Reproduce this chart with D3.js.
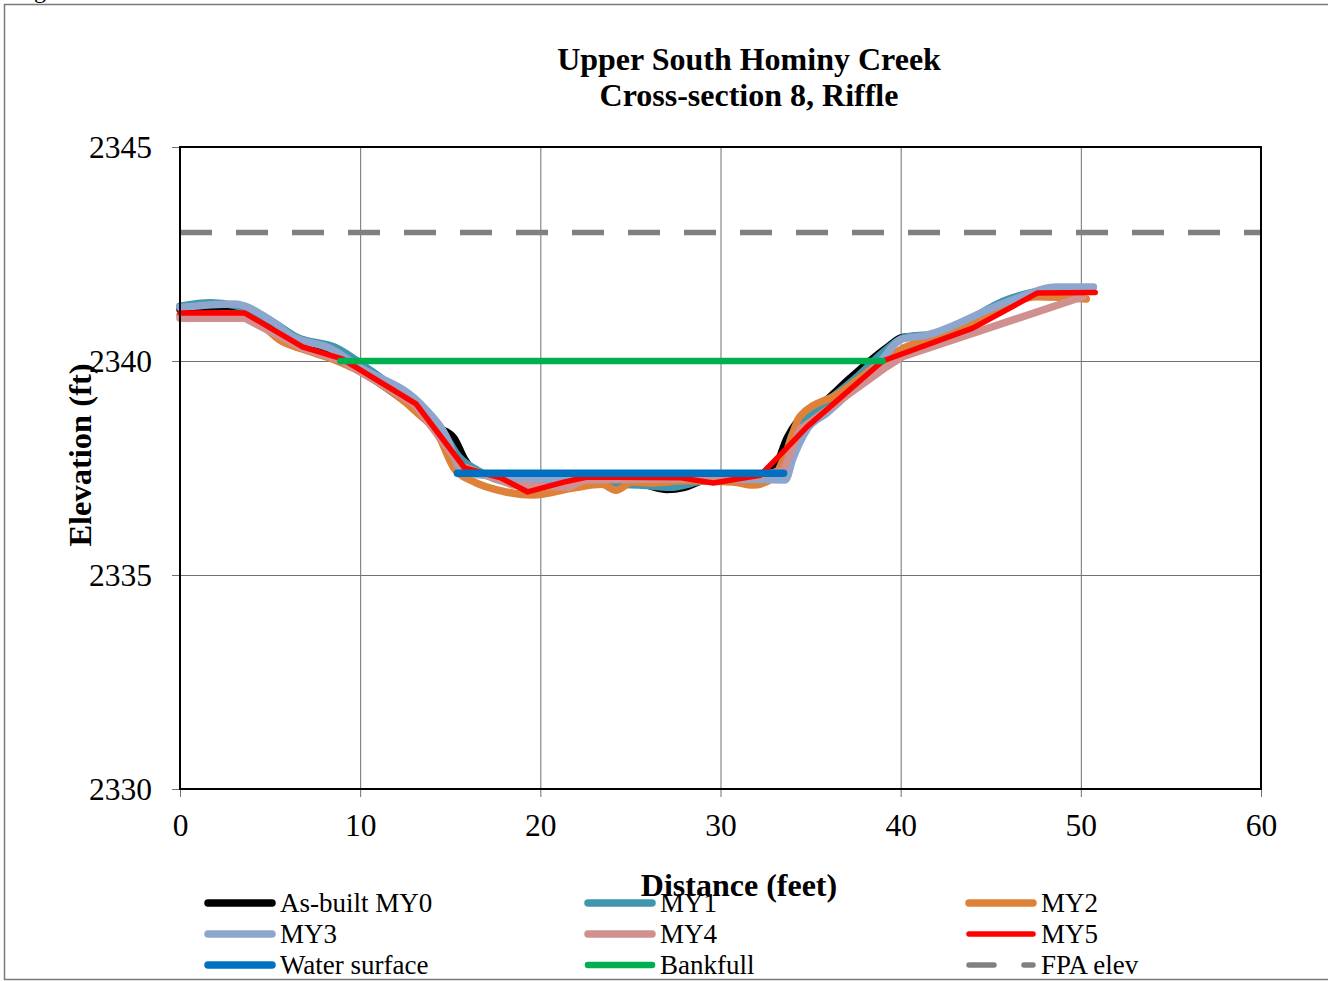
<!DOCTYPE html>
<html>
<head>
<meta charset="utf-8">
<script src="https://cdn.jsdelivr.net/npm/d3@7"></script>
<style>
  html, body { margin: 0; padding: 0; background: #fff; }
  svg { display: block; }
  text { font-family: "Liberation Serif", "Times New Roman", serif; fill: #000; }
</style>
</head>
<body>
<svg id="chart" width="1328" height="981"></svg>
<script>
// Survey profiles for cross-section 8: [distance (ft), elevation (ft)]
const asBuiltMY0 = [[0,2341.2],[1.5,2341.25],[3,2341.2],[5,2340.9],[6.5,2340.5],[9,2340.1],[10,2339.8],[13,2338.9],[14.3,2338.45],[15.2,2338.2],[15.8,2337.7],[16.4,2337.4],[18,2337.3],[22,2337.25],[25,2337.2],[27,2337.0],[28,2337.05],[29,2337.2],[32,2337.3],[33,2337.5],[33.7,2338.2],[34.3,2338.6],[35.5,2338.95],[37.2,2339.6],[39.2,2340.3],[40.1,2340.55],[42.2,2340.62],[46.2,2341.45],[47.5,2341.6],[50,2341.65]];
const my1 = [[0,2341.28],[1.7,2341.36],[3,2341.3],[5,2340.95],[6.5,2340.55],[8.7,2340.3],[10.5,2339.8],[13,2339.0],[14.5,2338.4],[15.5,2337.75],[16.5,2337.45],[18,2337.2],[22.9,2337.15],[25.5,2337.1],[27.2,2337.05],[29,2337.2],[32,2337.3],[33.3,2337.45],[34,2338.3],[35.5,2338.9],[37.5,2339.6],[39.3,2340.3],[40.2,2340.55],[42.2,2340.65],[46,2341.45],[48,2341.65],[50.5,2341.7]];
const my2 = [[0,2341.07],[3,2341.1],[4.5,2340.85],[5.5,2340.5],[7,2340.25],[8.3,2340.07],[10,2339.75],[13.2,2338.78],[14.3,2338.3],[15.2,2337.5],[16.2,2337.2],[18.1,2336.94],[19.6,2336.87],[21.8,2337.03],[23.4,2337.12],[24.2,2336.98],[25.1,2337.17],[26.1,2337.15],[28,2337.2],[30.7,2337.17],[31.8,2337.1],[32.9,2337.26],[33.7,2337.92],[34.4,2338.7],[36.6,2339.25],[39,2340.0],[40.3,2340.33],[42.6,2340.6],[47.6,2341.5],[50.3,2341.45]];
const my3 = [[0,2341.25],[3,2341.33],[5,2340.96],[6.3,2340.56],[8.3,2340.3],[10,2339.85],[13.5,2338.93],[14.8,2338.22],[15.5,2337.52],[16.5,2337.35],[20,2337.25],[25,2337.25],[30,2337.25],[33.6,2337.22],[34,2337.7],[34.8,2338.4],[35.9,2338.78],[38.9,2340.0],[40,2340.5],[41.4,2340.6],[45.9,2341.38],[48.7,2341.73],[50.7,2341.73]];
const my4 = [[0,2341.0],[3.6,2341.0],[6.8,2340.3],[9,2340.0],[13,2339.0],[15.6,2337.55],[18.5,2337.1],[21.6,2337.05],[22.4,2337.22],[28,2337.25],[32,2337.3],[33.5,2337.45],[34.4,2338.4],[39.2,2339.86],[40.1,2340.1],[50.1,2341.5]];
const my5 = [[0,2341.12],[3.6,2341.12],[6.8,2340.33],[9.0,2340.05],[13.1,2339.0],[15.8,2337.5],[17.8,2337.27],[19.3,2336.94],[21.3,2337.17],[22.6,2337.29],[27.8,2337.27],[29.6,2337.15],[32.2,2337.33],[33.3,2337.8],[34.8,2338.46],[39.0,2340.0],[44.0,2340.77],[47.6,2341.59],[50.8,2341.6]];
const waterSurface = [[15.4,2337.38],[33.5,2337.38]];
const bankfull = [[8.9,2340.0],[39.0,2340.0]];
const fpaElev = [[0,2343.0],[60,2343.0]];

const xTicks = [0, 10, 20, 30, 40, 50, 60];
const yTicks = [2330, 2335, 2340, 2345];
const titleLines = ["Upper South Hominy Creek", "Cross-section 8, Riffle"];
const seriesNames = ["As-built MY0", "MY1", "MY2", "MY3", "MY4", "MY5", "Water surface", "Bankfull", "FPA elev"];

const series = [
  { name: seriesNames[0], data: asBuiltMY0, color: "#000000", width: 7.5, smooth: true },
  { name: seriesNames[1], data: my1, color: "#3f96ad", width: 7.5, smooth: true },
  { name: seriesNames[2], data: my2, color: "#dd8238", width: 7.5, smooth: true },
  { name: seriesNames[3], data: my3, color: "#8ea6cd", width: 7.5, smooth: true },
  { name: seriesNames[4], data: my4, color: "#d09090", width: 7.5, smooth: false },
  { name: seriesNames[5], data: my5, color: "#ff0000", width: 5.5, smooth: false },
  { name: seriesNames[6], data: waterSurface, color: "#0070c0", width: 7.5, smooth: false },
  { name: seriesNames[7], data: bankfull, color: "#00b050", width: 6.5, smooth: false },
  { name: seriesNames[8], data: fpaElev, color: "#808080", width: 5.5, smooth: false, dash: "32,24" }
];

const svg = d3.select("#chart");

// outer chart frame (right edge runs off the page)
svg.append("path")
  .attr("d", "M1330,4.5H4.5V979.5H1330")
  .attr("fill", "none").attr("stroke", "#7a7a7a").attr("stroke-width", 1.5);

// fragment of the caption above the frame
svg.append("text").attr("x", 14).attr("y", -2)
  .attr("font-size", 24).text("Figure");

const plot = { left: 180, right: 1261, top: 147, bottom: 789 };
const x = d3.scaleLinear().domain([0, 60]).range([plot.left, plot.right]);
const y = d3.scaleLinear().domain([2330, 2345]).range([plot.bottom, plot.top]);

// gridlines
const grid = svg.append("g").attr("stroke", "#707070").attr("stroke-width", 1);
grid.selectAll("line.v").data(xTicks).join("line")
  .attr("x1", d => x(d) + 0.5).attr("x2", d => x(d) + 0.5)
  .attr("y1", plot.top).attr("y2", plot.bottom + 8);
grid.selectAll("line.h").data(yTicks).join("line")
  .attr("x1", plot.left - 8).attr("x2", plot.right)
  .attr("y1", d => y(d) + 0.5).attr("y2", d => y(d) + 0.5);

// axes tick labels
const xAxis = d3.axisBottom(x).tickValues(xTicks).tickSize(0).tickPadding(0).tickFormat(d3.format("d"));
const gx = svg.append("g").attr("transform", `translate(0,${plot.bottom})`).call(xAxis);
gx.select(".domain").remove();
gx.selectAll("text").attr("dy", null).attr("y", 47).attr("font-size", 31.5)
  .attr("font-family", "Liberation Serif, serif").attr("fill", "#000");

const yAxis = d3.axisLeft(y).tickValues(yTicks).tickSize(0).tickPadding(0).tickFormat(d3.format("d"));
const gy = svg.append("g").attr("transform", `translate(152,0)`).call(yAxis);
gy.select(".domain").remove();
gy.selectAll("text").attr("dy", "0.34em").attr("x", 0).attr("font-size", 31.5)
  .attr("font-family", "Liberation Serif, serif").attr("fill", "#000");

// data lines
const lines = svg.append("g");
series.forEach(s => {
  const gen = d3.line().x(d => x(d[0])).y(d => y(d[1]))
    .curve(s.smooth ? d3.curveMonotoneX : d3.curveLinear);
  lines.append("path").datum(s.data)
    .attr("d", gen)
    .attr("fill", "none")
    .attr("stroke", s.color)
    .attr("stroke-width", s.width)
    .attr("stroke-linejoin", "round")
    .attr("stroke-linecap", s.dash ? "butt" : "round")
    .attr("stroke-dasharray", s.dash || null);
});

// plot border
svg.append("rect")
  .attr("x", plot.left).attr("y", plot.top)
  .attr("width", plot.right - plot.left).attr("height", plot.bottom - plot.top)
  .attr("fill", "none").attr("stroke", "#000").attr("stroke-width", 2);

// titles
svg.append("text").attr("x", 749).attr("y", 70).attr("text-anchor", "middle")
  .attr("font-size", 32).attr("font-weight", "bold").text(titleLines[0]);
svg.append("text").attr("x", 749).attr("y", 106).attr("text-anchor", "middle")
  .attr("font-size", 32).attr("font-weight", "bold").text(titleLines[1]);

svg.append("text").attr("transform", "translate(91,455) rotate(-90)")
  .attr("text-anchor", "middle").attr("font-size", 32.5).attr("font-weight", "bold")
  .text("Elevation (ft)");

svg.append("text").attr("x", 739).attr("y", 896).attr("text-anchor", "middle")
  .attr("font-size", 32).attr("font-weight", "bold").text("Distance (feet)");

// legend, three columns
const colX = [205, 585, 966];
const rowY = [903, 934, 965];
const legend = svg.append("g");
series.forEach((s, i) => {
  const cx = colX[i % 3], cy = rowY[Math.floor(i / 3)];
  const item = legend.append("g");
  if (s.dash) {
    item.append("line").attr("x1", cx + 3).attr("x2", cx + 28).attr("y1", cy).attr("y2", cy)
      .attr("stroke", s.color).attr("stroke-width", s.width).attr("stroke-linecap", "round");
    item.append("line").attr("x1", cx + 58).attr("x2", cx + 67).attr("y1", cy).attr("y2", cy)
      .attr("stroke", s.color).attr("stroke-width", s.width).attr("stroke-linecap", "round");
  } else {
    item.append("line").attr("x1", cx + 3).attr("x2", cx + 67).attr("y1", cy).attr("y2", cy)
      .attr("stroke", s.color).attr("stroke-width", s.width).attr("stroke-linecap", "round");
  }
  item.append("text").attr("x", cx + 75).attr("y", cy + 9)
    .attr("font-size", 27).text(s.name);
});
</script>
</body>
</html>
